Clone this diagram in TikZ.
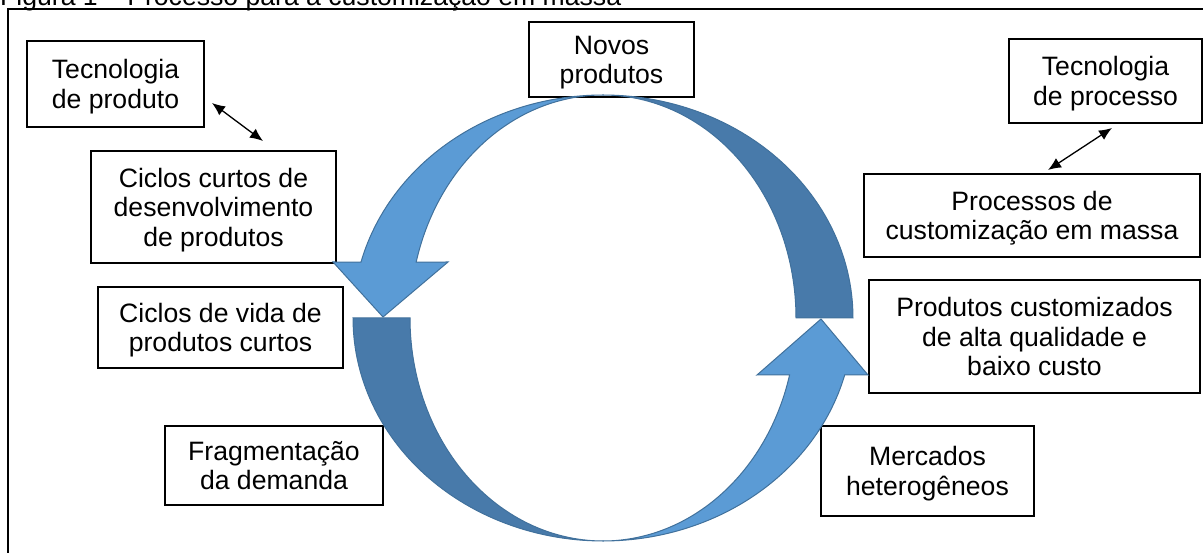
\documentclass[tikz,border=0pt]{standalone}
\usepackage{fontspec}
\setmainfont{Liberation Sans}
\usetikzlibrary{arrows.meta}
\definecolor{ringlight}{RGB}{91,155,213}
\definecolor{ringdark}{RGB}{72,122,170}
\definecolor{ringline}{RGB}{65,113,156}
% struts that make a text block symmetric about its cap-height/baseline span
\newcommand\bxtop{\rule{0pt}{0.94em}}
\newcommand\bxbot{\rule[-0.22em]{0pt}{0.22em}}
\begin{document}
\begin{tikzpicture}[x=1pt,y=-1pt,
  txt/.style={font=\fontsize{26.6}{29.5}\selectfont, align=center},
  box/.style={txt, draw=black, line width=2pt, fill=white, inner sep=0pt},
  ring/.style={draw=ringline, line width=1pt, line join=miter},
  link/.style={line width=1.3pt, {Latex[length=13pt,width=11pt]}-{Latex[length=13pt,width=11pt]}}]
\useasboundingbox (0,0) rectangle (1203,553);
\clip (0,0) rectangle (1203,553);

% caption above the frame
\node[txt, anchor=base west, inner sep=0pt] (caption) at (0,6) {Figura 1 – Processo para a customização em massa};

% frame
\draw[line width=2pt] (8,9) rectangle (1230,600);

% text boxes
\node[box, minimum width=177pt, minimum height=86pt] (tprod) at (115.5,84) {\bxtop Tecnologia\\de produto\bxbot};
\node[box, minimum width=245pt, minimum height=112pt] (ccurt) at (213.5,207) {\bxtop Ciclos curtos de\\desenvolvimento\\de produtos\bxbot};
\node[box, minimum width=245pt, minimum height=81pt] (cvida) at (220.5,327.5) {\bxtop Ciclos de vida de\\produtos curtos\bxbot};
\node[box, minimum width=218pt, minimum height=79pt] (frag) at (274,465.5) {\bxtop Fragmentação\\da demanda\bxbot};
\node[box, minimum width=165pt, minimum height=75pt] (novos) at (611.5,59.5) {\bxtop Novos\\produtos\bxbot};
\node[box, minimum width=193pt, minimum height=84pt] (tproc) at (1105.5,81) {\bxtop Tecnologia\\de processo\bxbot};
\node[box, minimum width=336pt, minimum height=83pt] (pcust) at (1032,215.5) {\bxtop Processos de\\customização em massa\bxbot};
\node[box, minimum width=331pt, minimum height=113pt] (pqual) at (1034.5,336.5) {\bxtop Produtos customizados\\de alta qualidade e\\baixo custo\bxbot};
\node[box, minimum width=213pt, minimum height=90pt] (merc) at (927.5,471) {\bxtop Mercados\\heterogêneos\bxbot};

% double-headed links
\coordinate (l1) at (212,103);
\coordinate (l2) at (263,141);
\coordinate (r1) at (1112,128);
\coordinate (r2) at (1048,170);
\draw[link] (l1) -- (l2);
\draw[link] (r1) -- (r2);

% circular arrows: outer ellipse rx=250, inner rx=193, both ry=223, centre (603,318)
% back (dark) faces
\filldraw[ring, fill=ringdark]
  plot[domain=270:360, samples=60] ({603+250*cos(\x)},{318+223*sin(\x)})
  -- plot[domain=360:270, samples=60] ({603+193*cos(\x)},{318+223*sin(\x)}) -- cycle;
\filldraw[ring, fill=ringdark]
  plot[domain=180:90, samples=60] ({603+250*cos(\x)},{318+223*sin(\x)})
  -- plot[domain=90:180, samples=60] ({603+193*cos(\x)},{318+223*sin(\x)}) -- cycle;
% front (light) faces with heads
\filldraw[ring, fill=ringlight]
  plot[domain=270:194.54, samples=60] ({603+250*cos(\x)},{318+223*sin(\x)})
  -- (333,262) -- (383,317) -- (448,262)
  -- plot[domain=194.54:270, samples=60] ({603+193*cos(\x)},{318+223*sin(\x)}) -- cycle;
\filldraw[ring, fill=ringlight]
  plot[domain=90:14.8, samples=60] ({603+250*cos(\x)},{318+223*sin(\x)})
  -- (868,375) -- (821,319) -- (757,375)
  -- plot[domain=14.8:90, samples=60] ({603+193*cos(\x)},{318+223*sin(\x)}) -- cycle;
\end{tikzpicture}
\end{document}
